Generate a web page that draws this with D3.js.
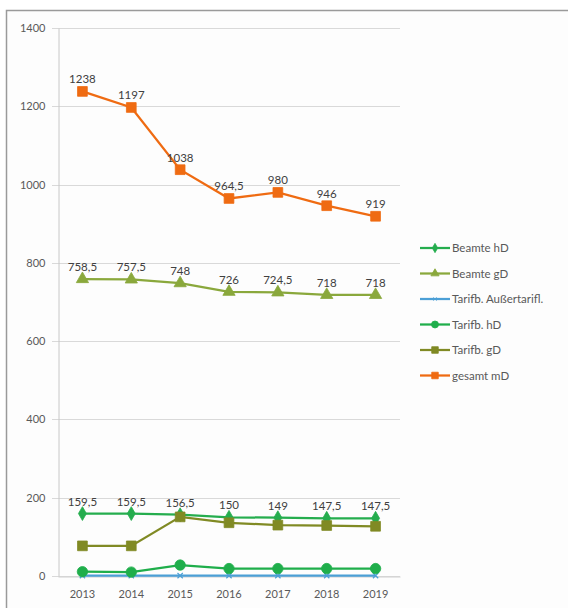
<!DOCTYPE html>
<html>
<head>
<meta charset="utf-8">
<script src="https://cdn.jsdelivr.net/npm/d3@7/dist/d3.min.js"></script>
<style>
  html, body { margin: 0; padding: 0; background: #ffffff; }
  svg { display: block; }
  text { font-family: Lato, "Open Sans", "Liberation Sans", sans-serif; }
</style>
</head>
<body>
<svg id="chart" width="568" height="608"></svg>
<script>
// Years on the category axis
const years = ["2013", "2014", "2015", "2016", "2017", "2018", "2019"];
const yTicks = [0, 200, 400, 600, 800, 1000, 1200, 1400];

// Staff numbers per group and year
const beamteHD   = [159.5, 159.5, 156.5, 150, 149, 147.5, 147.5];
const beamteGD   = [758.5, 757.5, 748, 726, 724.5, 718, 718];
const tarifAT    = [1, 1, 1, 1, 1, 1, 1];
const tarifHD    = [11, 10, 28, 19, 19, 19, 19];
const tarifGD    = [77, 77, 151, 136, 130, 129, 127];
const gesamtMD   = [1238, 1197, 1038, 964.5, 980, 946, 919];

const seriesNames  = ["Beamte hD", "Beamte gD", "Tarifb. Außertarifl.", "Tarifb. hD", "Tarifb. gD", "gesamt mD"];
const seriesValues = [beamteHD, beamteGD, tarifAT, tarifHD, tarifGD, gesamtMD];
const seriesColors = ["#25ad4e", "#8aa83c", "#4b9fd6", "#1fae4b", "#808a24", "#ef6b12"];
const seriesSymbols = ["diamond", "triangle", "x", "circle", "square", "square"];
const labelled = [true, true, false, false, false, true];

const svg = d3.select("#chart");

// outer frame
svg.append("rect").attr("x", 0).attr("y", 0).attr("width", 568).attr("height", 608).attr("fill", "#ffffff");
svg.append("rect")
  .attr("x", 6.5).attr("y", 10.5).attr("width", 580).attr("height", 620)
  .attr("fill", "#fdfdfd").attr("stroke", "#9a9a9a").attr("stroke-width", 1.5);

const x = d3.scaleBand().domain(years).range([58, 400]);
const y = d3.scaleLinear().domain([0, 1400]).range([576, 28]);

// horizontal gridlines
svg.append("g")
  .selectAll("line")
  .data(yTicks)
  .join("line")
  .attr("x1", 52).attr("x2", 400)
  .attr("y1", d => Math.round(y(d)) + 0.5).attr("y2", d => Math.round(y(d)) + 0.5)
  .attr("stroke", "#d9d9d9").attr("stroke-width", 1);

// value axis
const yAxis = svg.append("g")
  .attr("transform", "translate(58.5,0)")
  .call(d3.axisLeft(y).tickValues(yTicks).tickSize(0).tickPadding(13).tickFormat(d3.format("d")));
yAxis.select(".domain").attr("stroke", "#c8c8c8");
yAxis.selectAll("text").attr("fill", "#595959").attr("font-size", 11);

// category axis
const xAxis = svg.append("g")
  .attr("transform", "translate(0,576.5)")
  .call(d3.axisBottom(x).tickSize(0).tickPadding(14));
xAxis.select(".domain").attr("stroke", "#d0d0d0");
xAxis.selectAll("text").attr("fill", "#595959").attr("font-size", 11);

const line = d3.line()
  .x((d, i) => x(years[i]) + x.bandwidth() / 2)
  .y(d => y(d));

function symbolFor(name, size) {
  const map = {
    diamond: d3.symbolDiamond,
    triangle: d3.symbolTriangle,
    circle: d3.symbolCircle,
    square: d3.symbolSquare,
    x: d3.symbolTimes
  };
  return d3.symbol().type(map[name]).size(size)();
}
const markerSize = { diamond: 55, triangle: 65, circle: 85, square: 95, x: 20 };

seriesValues.forEach((vals, si) => {
  const g = svg.append("g");
  const col = seriesColors[si];
  g.append("path")
    .attr("d", line(vals))
    .attr("fill", "none")
    .attr("stroke", col)
    .attr("stroke-width", 2.25);
  g.selectAll("path.mk")
    .data(vals)
    .join("path")
    .attr("class", "mk")
    .attr("transform", (d, i) => `translate(${x(years[i]) + x.bandwidth() / 2},${y(d)})`)
    .attr("d", symbolFor(seriesSymbols[si], markerSize[seriesSymbols[si]]))
    .attr("fill", col)
    .attr("stroke", col)
    .attr("stroke-width", seriesSymbols[si] === "x" ? 1.2 : 0.8);
});

// data labels
const fmt = v => String(v).replace(".", ",");
seriesValues.forEach((vals, si) => {
  if (!labelled[si]) return;
  svg.append("g")
    .selectAll("text")
    .data(vals)
    .join("text")
    .attr("x", (d, i) => x(years[i]) + x.bandwidth() / 2)
    .attr("y", d => y(d) - 8)
    .attr("text-anchor", "middle")
    .attr("font-size", 11.5)
    .attr("fill", "#404040")
    .text(d => fmt(d));
});

// legend
const legend = svg.append("g").attr("transform", "translate(420,248)");
seriesNames.forEach((name, si) => {
  const row = legend.append("g").attr("transform", `translate(0,${si * 25.5})`);
  row.append("line")
    .attr("x1", 0).attr("x2", 30).attr("y1", 0).attr("y2", 0)
    .attr("stroke", seriesColors[si]).attr("stroke-width", 2.25);
  const sym = seriesSymbols[si];
  row.append("path")
    .attr("transform", "translate(15,0)")
    .attr("d", symbolFor(sym, markerSize[sym] * 0.45))
    .attr("fill", seriesColors[si])
    .attr("stroke", seriesColors[si])
    .attr("stroke-width", 0.8);
  row.append("text")
    .attr("x", 32).attr("y", 0).attr("dy", "0.35em")
    .attr("font-size", 11.5)
    .attr("fill", "#595959")
    .text(name);
});
</script>
</body>
</html>
